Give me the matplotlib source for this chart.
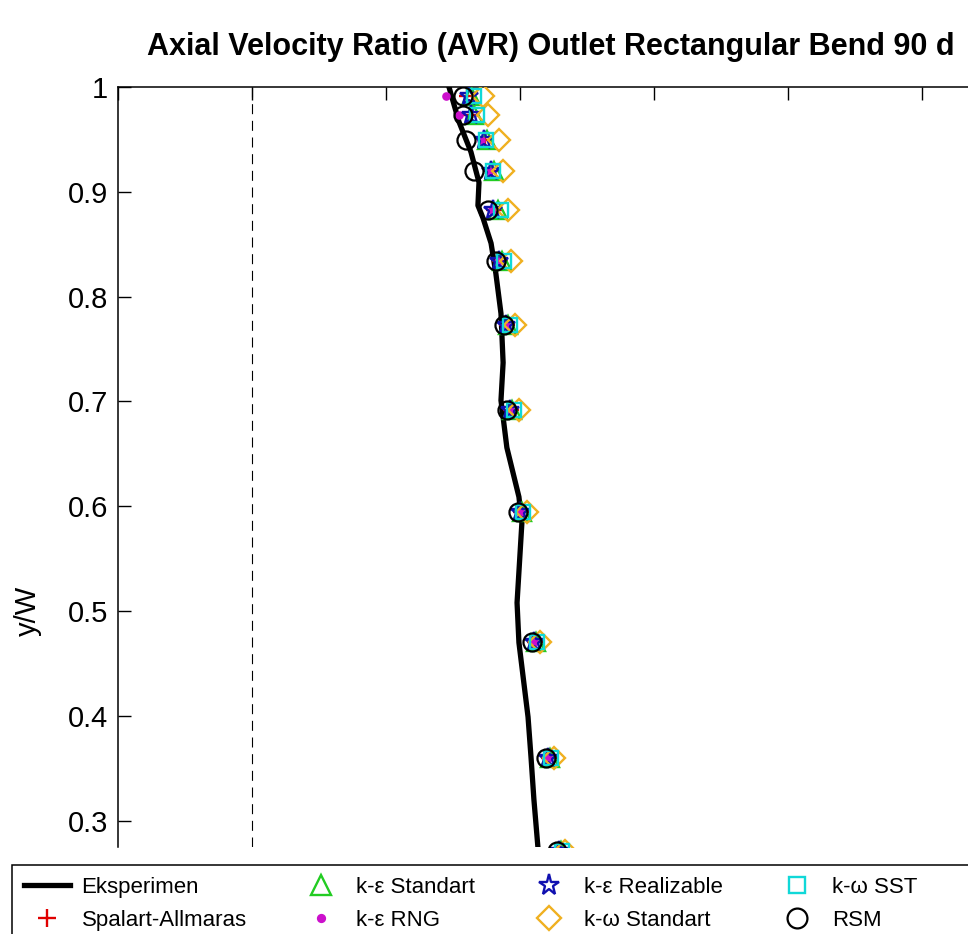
import matplotlib

matplotlib.use("Agg")

import matplotlib.pyplot as plt
import numpy as np
from matplotlib.patches import Rectangle

plt.rcParams["font.family"] = ["Liberation Sans", "DejaVu Sans"]

# experimental profile (AVR, y/W)
exp_avr = [0.735, 0.772, 0.817, 0.847, 0.843, 0.862, 0.892, 0.910, 0.929, 0.937,
           0.929, 0.937, 0.951, 0.996, 1.007, 0.989, 0.996, 1.030, 1.041, 1.052, 1.075, 1.090]
exp_y = [1.000, 0.967, 0.938, 0.909, 0.887, 0.875, 0.851, 0.822, 0.784, 0.737,
         0.701, 0.685, 0.656, 0.609, 0.584, 0.508, 0.470, 0.399, 0.361, 0.320, 0.250, 0.200]

# simulation results at measurement stations
sim_y = [0.991, 0.973, 0.949, 0.920, 0.883, 0.834, 0.773, 0.692, 0.595, 0.471, 0.360, 0.271]
sa = [0.802, 0.817, 0.869, 0.896, 0.903, 0.925, 0.951, 0.966, 1.004, 1.056, 1.108, 1.149]
ke_std = [0.817, 0.828, 0.877, 0.903, 0.918, 0.933, 0.955, 0.970, 1.007, 1.060, 1.112, 1.153]
ke_rng = [0.724, 0.772, 0.854, 0.884, 0.896, 0.918, 0.948, 0.963, 1.000, 1.052, 1.104, 1.146]
ke_real = [0.810, 0.817, 0.866, 0.892, 0.899, 0.922, 0.948, 0.963, 1.000, 1.052, 1.104, 1.146]
kw_std = [0.862, 0.881, 0.922, 0.937, 0.955, 0.966, 0.981, 0.996, 1.026, 1.075, 1.127, 1.168]
kw_sst = [0.828, 0.840, 0.873, 0.899, 0.929, 0.940, 0.963, 0.978, 1.011, 1.063, 1.116, 1.157]
rsm = [0.787, 0.787, 0.799, 0.828, 0.881, 0.910, 0.940, 0.951, 0.993, 1.045, 1.097, 1.138]

y_ticks = [0.3, 0.4, 0.5, 0.6, 0.7, 0.8, 0.9, 1.0]
y_tick_labels = ["0.3", "0.4", "0.5", "0.6", "0.7", "0.8", "0.9", "1"]

W, H = 968, 934
fig = plt.figure(figsize=(W / 100, H / 100), dpi=100)
ax = fig.add_axes([118 / W, 87 / H, 938 / W, 760 / H])

ax.axvline(0, color="black", lw=0.8, ls=(0, (9, 6)))
ax.plot(exp_avr, exp_y, color="black", lw=3.8, label="Eksperimen", zorder=2)

mk = dict(ls="none", mew=1.7, zorder=3)
ax.plot(sa, sim_y, marker="+", ms=12, color="#e00000", label="Spalart-Allmaras", **mk)
ax.plot(ke_std, sim_y, marker="^", ms=13, mfc="none", color="#22cc22", label="k-ε Standart", **mk)
ax.plot(ke_rng, sim_y, marker="o", ms=4.5, color="#cc10cc", label="k-ε RNG", **mk)
ax.plot(ke_real, sim_y, marker="*", ms=14, mfc="none", color="#1010b0", label="k-ε Realizable", **mk)
ax.plot(kw_std, sim_y, marker="D", ms=11, mfc="none", color="#f0b020", label="k-ω Standart", **mk)
ax.plot(kw_sst, sim_y, marker="s", ms=10.5, mfc="none", color="#10d8d8", label="k-ω SST", **mk)
ax.plot(rsm, sim_y, ls="none", marker="o", ms=13, mew=1.6, mfc="none", color="black",
        label="RSM", zorder=4)

ax.set_xlim(-0.5, 3.0)
ax.set_ylim(0.275, 1.0)
ax.set_xticks(np.arange(-0.5, 3.01, 0.5))
ax.set_yticks(y_ticks)
ax.set_yticklabels(y_tick_labels)
ax.tick_params(axis="x", direction="in", top=True, bottom=False, labelbottom=False,
               length=9.5, width=1.0)
ax.tick_params(axis="y", direction="in", left=True, right=False, length=9.5, width=1.0,
               labelsize=21, pad=7)
ax.spines["bottom"].set_visible(False)
for s in ["left", "top", "right"]:
    ax.spines[s].set_linewidth(1.1)

fig.text(147 / W, 1 - 47 / H, "Axial Velocity Ratio (AVR) Outlet Rectangular Bend 90 d",
         ha="left", va="center", fontsize=22, fontweight="bold")
fig.text(28 / W, 1 - 611 / H, "y/W", rotation=90, ha="center", va="center", fontsize=21)

# legend box runs off the bottom/right edge as in the source
fig.patches.append(Rectangle((12 / W, -0.05), 1.1, 0.05 + (H - 865) / H,
                             transform=fig.transFigure, fill=True, fc="white",
                             ec="black", lw=1.1, zorder=5))
handles, labels = ax.get_legend_handles_labels()
leg = fig.legend(handles, labels, loc="upper left", bbox_to_anchor=(12 / W, (H - 865) / H),
                 ncol=4, frameon=False, fontsize=16, handlelength=2.07, handletextpad=0.54,
                 columnspacing=2.3, borderpad=0.52, labelspacing=0.55, borderaxespad=0,
                 markerscale=1.1)
leg.set_zorder(6)

fig.savefig("out.png", dpi=100)
